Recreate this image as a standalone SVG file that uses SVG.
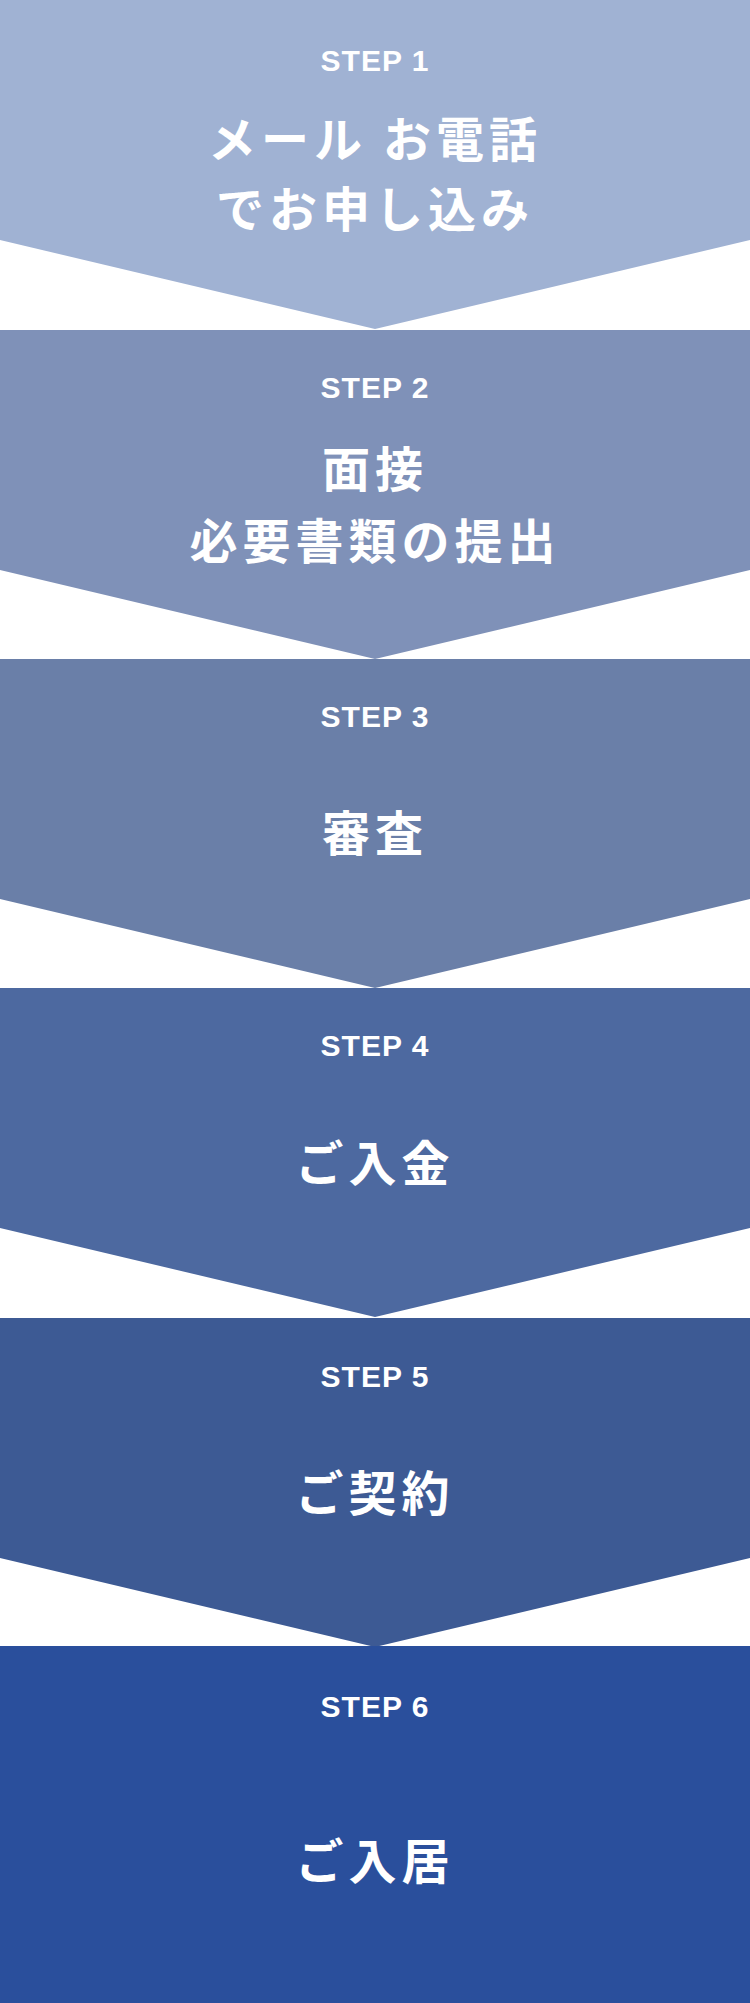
<svg xmlns="http://www.w3.org/2000/svg" width="750" height="2003" viewBox="0 0 750 2003">
<style>
.s{font-family:"Liberation Sans","Noto Sans CJK JP",sans-serif;font-size:30px;font-weight:bold;fill:#fff;text-anchor:middle;dominant-baseline:central;letter-spacing:1px}
.t{font-family:"Noto Sans CJK JP",sans-serif;font-size:48px;font-weight:bold;fill:#fff;text-anchor:middle;dominant-baseline:central;letter-spacing:5px}
</style>
<rect width="750" height="2003" fill="#fff"/>
<g id="step1"><path d="M0 0H750V240L375 329L0 240Z" fill="#a0b2d3"/><text class="s" x="375" y="60">STEP 1</text><text class="t" x="375" y="136">メール お電話</text><text class="t" x="375" y="206">でお申し込み</text></g>
<g id="step2"><path d="M0 330H750V570L375 659L0 570Z" fill="#7f91b8"/><text class="s" x="375" y="387">STEP 2</text><text class="t" x="375" y="466">面接</text><text class="t" x="375" y="538">必要書類の提出</text></g>
<g id="step3"><path d="M0 659H750V899L375 988L0 899Z" fill="#6a7fa8"/><text class="s" x="375" y="716">STEP 3</text><text class="t" x="375" y="830">審査</text></g>
<g id="step4"><path d="M0 988H750V1228L375 1317L0 1228Z" fill="#4d69a0"/><text class="s" x="375" y="1045">STEP 4</text><text class="t" x="375" y="1160">ご入金</text></g>
<g id="step5"><path d="M0 1318H750V1558L375 1647L0 1558Z" fill="#3d5a94"/><text class="s" x="375" y="1376">STEP 5</text><text class="t" x="375" y="1490">ご契約</text></g>
<g id="step6"><path d="M0 1646H750V2003H0Z" fill="#2a4f9c"/><text class="s" x="375" y="1706">STEP 6</text><text class="t" x="375" y="1858">ご入居</text></g>
<g id="connectors"/>
</svg>
